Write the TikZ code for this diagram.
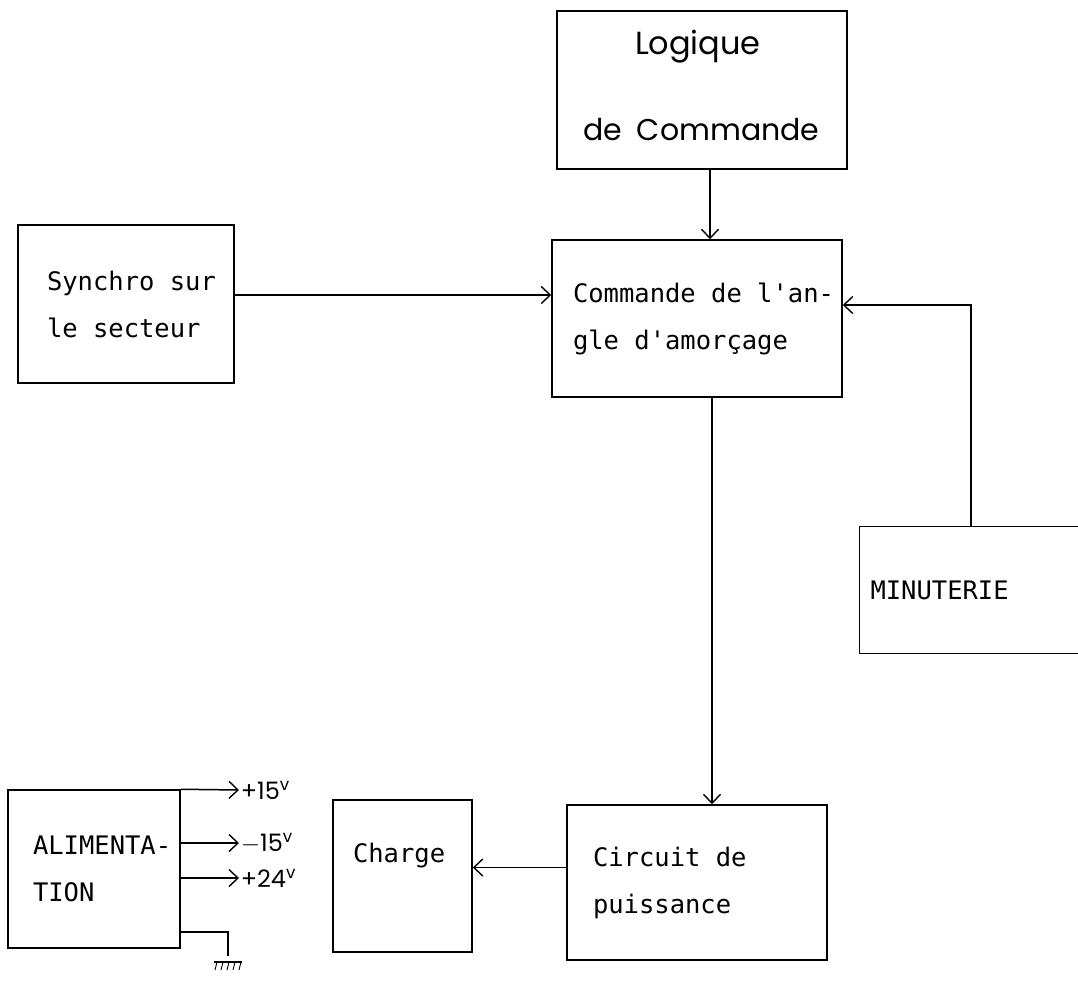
\documentclass[tikz,border=0pt]{standalone}
\usepackage{fontspec}
\setmonofont{DejaVu Sans Mono}[WordSpace={1,0,0}]
\newfontfamily\hand{Poppins}
\usetikzlibrary{arrows.meta}
\begin{document}
\begin{tikzpicture}[x=1pt,y=1pt,
  line width=1.5pt,
  box/.style={draw, rectangle, inner ysep=0pt, align=flush left,
    font=\ttfamily\fontsize{25.5}{47}\selectfont},
  handbox/.style={draw, rectangle, inner sep=0pt,
    font=\hand\fontsize{30}{34}\selectfont},
  volt/.style={inner sep=1pt, anchor=west, font=\hand\fontsize{24}{26}\selectfont},
  arr/.style={-{Straight Barb[length=9pt,width=17pt,line width=1.4pt]}},
]
\useasboundingbox (0,0) rectangle (1078,-980);
\fill[white] (0,0) rectangle (1078,-980);

% boxes
\node[handbox, minimum width=290pt, minimum height=158pt] (logic) at (702,-90)
  {\raisebox{7pt}{\begin{tabular}{@{}l@{}}\makebox[290pt][l]{\hspace*{78pt}{\fontsize{32}{34}\selectfont Logique}}\\[52pt]%
   \makebox[290pt][l]{\hspace*{26pt}de\hspace{15pt}Commande}\end{tabular}}};
\node[box, inner xsep=21pt, text width=248pt, minimum height=157pt] (cmd) at (697,-318.5)
  {Commande~de~l'an-\\gle~d'amorçage};
\node[box, inner xsep=29pt, text width=158pt, minimum height=158pt] (sync) at (126,-304)
  {Synchro~sur\\le~secteur};
\node[box, inner xsep=11pt, text width=213pt, minimum height=127pt] (minut) at (977,-590)
  {MINUTERIE};
\node[box, inner xsep=26pt, text width=208pt, minimum height=155pt] (circ) at (697,-882.5)
  {Circuit~de\\puissance};
\node[box, inner xsep=20pt, text width=99pt, minimum height=152pt] (charge) at (402.5,-876)
  {Charge\\\mbox{}};
\node[box, inner xsep=25pt, text width=122pt, minimum height=158pt] (alim) at (94,-869)
  {ALIMENTA-\\TION};

% voltage labels
\node[volt] (p15) at (239,-790) {+15\textsuperscript{v}};
\node[volt] (m15) at (239,-843) {$-$15\textsuperscript{v}};
\node[volt] (p24) at (239,-878) {+24\textsuperscript{v}};
\coordinate (gnd) at (228,-932);

% connectors
\draw[arr] ([xshift=8pt]logic.south) -- ([xshift=8pt]logic.south |- cmd.north);
\draw[arr] ([yshift=9pt]sync.east) -- ([yshift=9pt]sync.east -| cmd.west);
\draw[arr] ([xshift=-6pt]minut.north) |- ([yshift=13.5pt]cmd.east);
\draw[arr] ([xshift=15pt]cmd.south) -- ([xshift=15pt]cmd.south |- circ.north);
\draw[arr] ([yshift=15pt]circ.west) -- ([yshift=15pt]circ.west -| charge.east);

\draw[arr] (alim.north east) -- (p15.west);
\draw[arr] (alim.east |- m15.west) -- (m15.west);
\draw[arr] (alim.east |- p24.west) -- (p24.west);

% ground
\draw (alim.east |- gnd) -- (gnd) -- ++(0,-24);
\draw ([shift={(-14,-30)}]gnd) -- ++(28,0);
\foreach \dx in {-11,-5,1,7,13}
  \draw[line width=0.9pt] ([shift={(\dx,-30)}]gnd) -- ++(-2,-8);
\end{tikzpicture}
\end{document}
